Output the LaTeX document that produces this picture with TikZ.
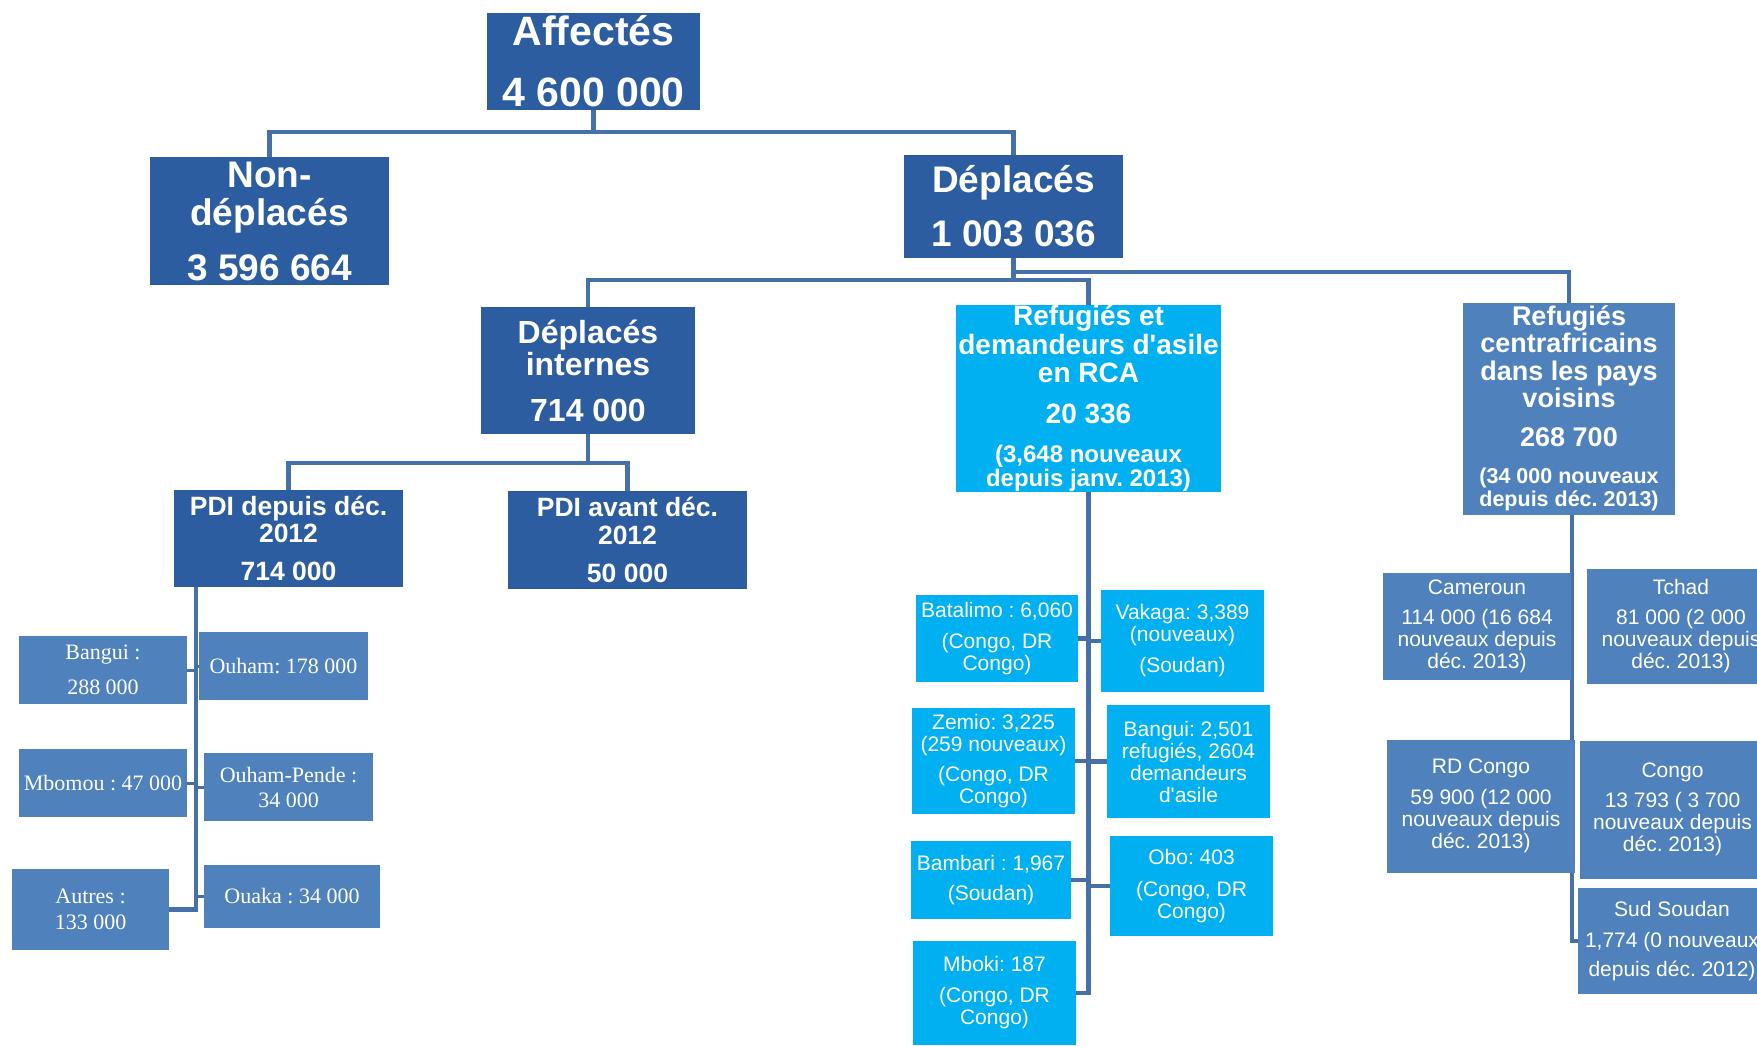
\documentclass[tikz,border=0pt]{standalone}
\usepackage{fontspec}
\setmainfont{Liberation Sans}
\newfontfamily\cambriafont{Liberation Serif}
\usetikzlibrary{backgrounds}
\definecolor{darkb}{RGB}{44,93,160}
\definecolor{cyanb}{RGB}{0,176,240}
\definecolor{medb}{RGB}{79,129,189}
\definecolor{linec}{RGB}{70,112,168}
\frenchspacing
\begin{document}
\begin{tikzpicture}[x=1pt,y=-1pt,
  box/.style={inner sep=0pt, outer sep=0pt, align=center, text=white},
  dark/.style={box, fill=darkb},
  cyanbox/.style={box, fill=cyanb},
  medbox/.style={box, fill=medb},
  bsz/.style 2 args={font=\frenchspacing\fontsize{#1}{#2}\selectfont\bfseries},
  rsz/.style 2 args={font=\frenchspacing\fontsize{#1}{#2}\selectfont},
  ssz/.style 2 args={font=\frenchspacing\cambriafont\fontsize{#1}{#2}\selectfont},
  conn/.style={draw=linec, line width=4.5pt},
  stub/.style={draw=linec, line width=3pt}]
\useasboundingbox (0,0) rectangle (1757,1045);
% level 0-1
\node[dark, bsz={41}{61}, minimum width=213pt, minimum height=97pt] (aff) at (593.5,61.5) {Affectés\\4 600 000};
\node[dark, bsz={37}{38}, minimum width=239pt, minimum height=128pt] (nond) at (269.5,221) {Non-\\déplacés\\[17pt]3 596 664};
\node[dark, bsz={37}{54}, minimum width=219pt, minimum height=103pt] (dep) at (1013.5,206.5) {Déplacés\\1 003 036};
% level 2
\node[dark, bsz={32}{32}, minimum width=214pt, minimum height=127pt] (dint) at (588,370.5) {Déplacés\\internes\\[14pt]714 000};
\node[cyanbox, bsz={28}{28.5}, minimum width=265pt, minimum height=186pt] (rrca) at (1088.5,398.5) {Refugiés et\\demandeurs d\textquotesingle asile\\en RCA\\[12.5pt]20 336\\[10pt]\fontsize{24}{24}\selectfont(3,648 nouveaux\\[-4pt]\fontsize{24}{24}\selectfont depuis janv. 2013)};
\node[medbox, bsz={27}{27.3}, minimum width=212pt, minimum height=212pt] (rcaf) at (1569,408.5) {Refugiés\\centrafricains\\dans les pays\\voisins\\[12pt]268 700\\[9pt]\fontsize{21.5}{24}\selectfont(34 000 nouveaux\\[-3.5pt]\fontsize{21.5}{24}\selectfont depuis déc. 2013)};
% level 3
\node[dark, bsz={26.5}{27}, minimum width=229pt, minimum height=97pt] (pdi1) at (288.5,538.5) {PDI depuis déc.\\2012\\[11pt]714 000};
\node[dark, bsz={26.5}{28}, minimum width=239pt, minimum height=98pt] (pdi2) at (627.5,540) {PDI avant déc.\\2012\\[10pt]50 000};
% PDI depuis children
\node[medbox, ssz={22}{35}, minimum width=168pt, minimum height=68pt] (bangui) at (103,670) {Bangui :\\288 000};
\node[medbox, ssz={22}{25}, minimum width=169pt, minimum height=68pt] (ouham) at (283.5,666) {Ouham: 178 000};
\node[medbox, ssz={22}{25}, minimum width=168pt, minimum height=68pt] (mbomou) at (103,783) {Mbomou : 47 000};
\node[medbox, ssz={22}{25}, minimum width=169pt, minimum height=68pt] (ouhamp) at (288.5,787) {Ouham-Pende :\\34 000};
\node[medbox, ssz={22}{26}, minimum width=157pt, minimum height=81pt] (autres) at (90.5,909.5) {Autres :\\133 000};
\node[medbox, ssz={22}{25}, minimum width=176pt, minimum height=63pt] (ouaka) at (292,896.5) {Ouaka : 34 000};
% RCA children
\node[cyanbox, rsz={21}{22}, minimum width=162pt, minimum height=87pt] (batalimo) at (997,638.5) {Batalimo : 6,060\\[9pt](Congo, DR\\Congo)};
\node[cyanbox, rsz={21}{22}, minimum width=163pt, minimum height=102pt] (vakaga) at (1182.5,641) {Vakaga: 3,389\\(nouveaux)\\[9pt](Soudan)};
\node[cyanbox, rsz={21}{22}, minimum width=163pt, minimum height=106pt] (zemio) at (993.5,761) {Zemio: 3,225\\(259 nouveaux)\\[8pt](Congo, DR\\Congo)};
\node[cyanbox, rsz={21}{22}, minimum width=163pt, minimum height=113pt] (banguir) at (1188.5,761.5) {Bangui: 2,501\\refugiés, 2604\\demandeurs\\d\textquotesingle asile};
\node[cyanbox, rsz={21}{22}, minimum width=160pt, minimum height=78pt] (bambari) at (991,880) {Bambari : 1,967\\[8pt](Soudan)};
\node[cyanbox, rsz={21}{22}, minimum width=163pt, minimum height=100pt] (obo) at (1191.5,886) {Obo: 403\\[10pt](Congo, DR\\Congo)};
\node[cyanbox, rsz={21}{22}, minimum width=163pt, minimum height=104pt] (mboki) at (994.5,993) {Mboki: 187\\[9pt](Congo, DR\\Congo)};
% neighbouring countries
\node[medbox, rsz={21}{22}, minimum width=188pt, minimum height=107pt] (cameroun) at (1477,626) {Cameroun\\[8pt]114 000 (16 684\\nouveaux depuis\\déc. 2013)};
\node[medbox, rsz={21}{22}, minimum width=188pt, minimum height=115pt] (tchad) at (1681,626) {Tchad\\[8pt]81 000 (2 000\\nouveaux depuis\\déc. 2013)};
\node[medbox, rsz={21}{22}, minimum width=188pt, minimum height=133pt] (rdcongo) at (1481,806) {RD Congo\\[9pt]59 900 (12 000\\nouveaux depuis\\déc. 2013)};
\node[medbox, rsz={21}{22}, minimum width=185pt, minimum height=138pt] (congo) at (1672.5,809.5) {Congo\\[8pt]13 793 ( 3 700\\nouveaux depuis\\déc. 2013)};
\node[medbox, rsz={21}{22}, minimum width=188pt, minimum height=106pt] (sudsoudan) at (1672,941) {Sud Soudan\\[9pt]1,774 (0 nouveaux\\[7pt]depuis déc. 2012)};
\coordinate (ltrunk) at ([xshift=22pt]pdi1.south west);
% connectors
\begin{scope}[on background layer]
\draw[conn] (aff.south) -- ++(0,22) -| (nond.north);
\draw[conn] (aff.south) -- ++(0,22) -| (dep.north);
\draw[conn] (dep.south) -- ++(0,22) -| (dint.north);
\draw[conn] (dep.south) -- ++(0,22) -| (rrca.north);
\draw[conn] (dep.south) -- ++(0,14) -| (rcaf.north);
\draw[conn] (dint.south) -- ++(0,29) -| (pdi1.north);
\draw[conn] (dint.south) -- ++(0,29) -| (pdi2.north);
\draw[conn] (ltrunk) |- (autres.east);
\draw[stub] (ltrunk |- bangui.east) -- (bangui.east);
\draw[stub] (ltrunk |- ouham.west) -- (ouham.west);
\draw[stub] (ltrunk |- mbomou.east) -- (mbomou.east);
\draw[stub] (ltrunk |- ouhamp.west) -- (ouhamp.west);
\draw[stub] (ltrunk |- ouaka.west) -- (ouaka.west);
\draw[conn] (rrca.south) |- (mboki.east);
\draw[conn] (rrca.south |- batalimo.east) -- (batalimo.east);
\draw[conn] (rrca.south |- vakaga.west) -- (vakaga.west);
\draw[conn] (rrca.south |- zemio.east) -- (zemio.east);
\draw[conn] (rrca.south |- banguir.west) -- (banguir.west);
\draw[conn] (rrca.south |- bambari.east) -- (bambari.east);
\draw[conn] (rrca.south |- obo.west) -- (obo.west);
\draw[conn] ([xshift=3pt]rcaf.south) |- (sudsoudan.west);
\end{scope}
\end{tikzpicture}
\end{document}
